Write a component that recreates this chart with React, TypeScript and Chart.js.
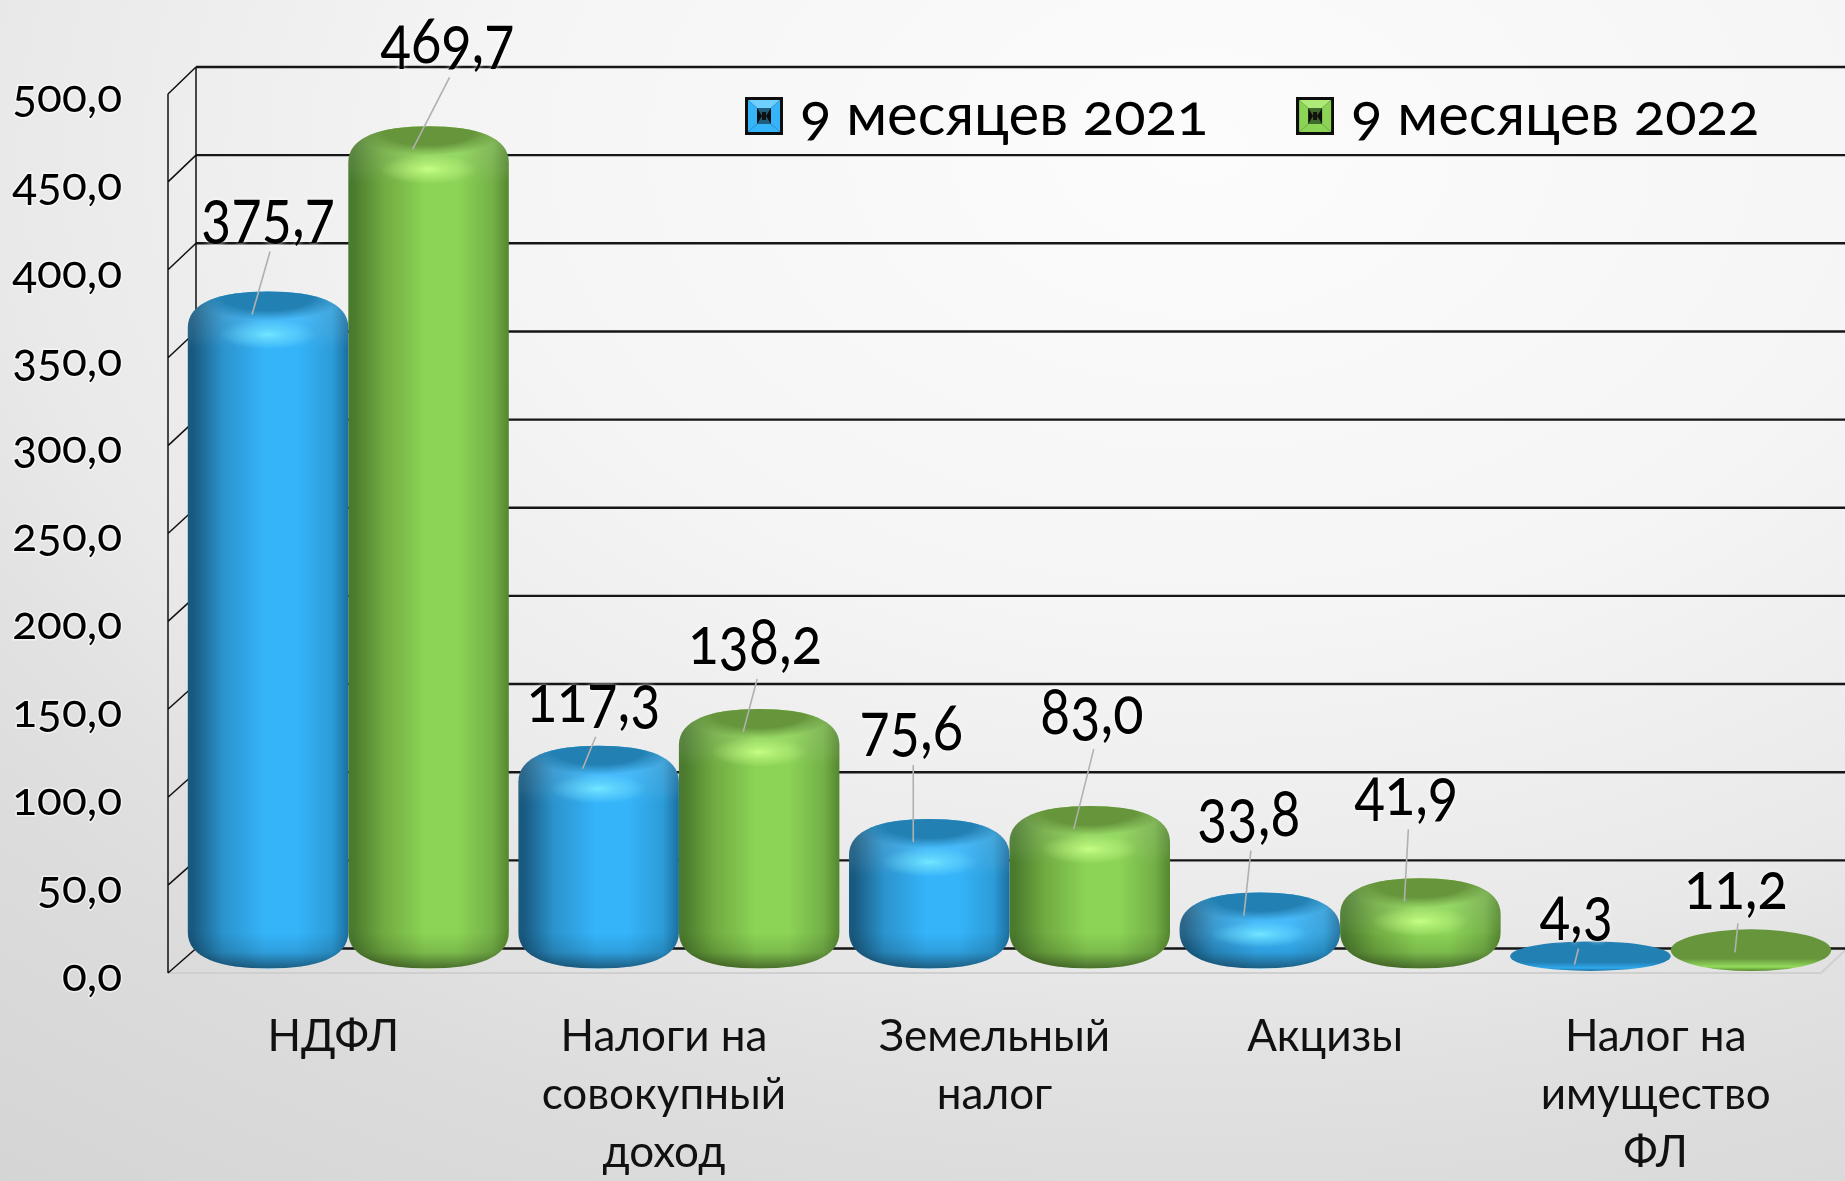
import React, { useEffect, useRef } from "react";
import { Chart, registerables } from "chart.js";
Chart.register(...registerables);

const categories = [["НДФЛ"], ["Налоги на", "совокупный", "доход"], ["Земельный", "налог"], ["Акцизы"], ["Налог на", "имущество", "ФЛ"]];
const seriesNames = ["9 месяцев 2021", "9 месяцев 2022"];
const values2021 = [375.7, 117.3, 75.6, 33.8, 4.3];
const values2022 = [469.7, 138.2, 83.0, 41.9, 11.2];
const yTicks = [0, 50, 100, 150, 200, 250, 300, 350, 400, 450, 500];
// label placement relative to the top of each bar
const labelDx = [[0, -5, -18, -11, -14], [19, -4, 2, -14, -15]];
const labelDy = [[-72, -41, -86, -74, -25], [-81, -62, -89, -81, -38]];

const PAL = [
  { edgeL: "#18597f", a: "#2b93cd", b: "#35b4fa", c: "#2c9cd8", edgeR: "#1b6e9f", top: "#2380b3", hi: "#74e6ff", rim: "#2fa9ec" },
  { edgeL: "#4a7a2d", a: "#70ab41", b: "#8cd456", c: "#74b047", edgeR: "#55872f", top: "#66953c", hi: "#c6ff84", rim: "#93dc5a" },
];
const DEPTH_X = 15;
const FONT = "Lato";

function softEllipse(ctx: CanvasRenderingContext2D, x: number, y: number, rx: number, ry: number, color: string, core: number) {
  ctx.save();
  ctx.translate(x, y);
  ctx.scale(rx, ry);
  const g = ctx.createRadialGradient(0, 0, 0, 0, 0, 1);
  g.addColorStop(0, color);
  g.addColorStop(core, color + (core > 0.4 ? "ff" : "99"));
  g.addColorStop(1, color + "00");
  ctx.fillStyle = g;
  ctx.beginPath();
  ctx.arc(0, 0, 1, 0, Math.PI * 2);
  ctx.fill();
  ctx.restore();
}

function topOf(el: any, v: number) {
  return el.y - (v < 20 ? 24 : 21);
}

function drawBar(ctx: CanvasRenderingContext2D, el: any, ds: number, v: number, y0: number) {
  const p = PAL[ds];
  const cx = el.x + DEPTH_X;
  const w = el.width;
  const L = cx - w / 2;
  const R = cx + w / 2;
  const flat = v < 20;
  const T = topOf(el, v);
  const B = y0 - (flat ? 2 : 4.6);
  const h = B - T;
  ctx.save();
  if (flat) {
    const g = ctx.createLinearGradient(0, T, 0, B);
    g.addColorStop(0, p.top);
    g.addColorStop(0.7, p.top);
    g.addColorStop(0.9, p.rim);
    g.addColorStop(1, p.edgeR);
    ctx.fillStyle = g;
    ctx.beginPath();
    ctx.ellipse(cx, (T + B) / 2, w / 2, h / 2, 0, 0, Math.PI * 2);
    ctx.fill();
    ctx.restore();
    return;
  }
  const r = Math.min(36, h / 2);
  ctx.beginPath();
  ctx.moveTo(L, T + r);
  ctx.bezierCurveTo(L, T + r * 0.3, L + w * 0.2, T, cx, T);
  ctx.bezierCurveTo(R - w * 0.2, T, R, T + r * 0.3, R, T + r);
  ctx.lineTo(R, B - r);
  ctx.bezierCurveTo(R, B - r * 0.3, R - w * 0.2, B, cx, B);
  ctx.bezierCurveTo(L + w * 0.2, B, L, B - r * 0.3, L, B - r);
  ctx.closePath();
  const g = ctx.createLinearGradient(L, 0, R, 0);
  g.addColorStop(0, p.edgeL);
  g.addColorStop(0.03, p.edgeL);
  g.addColorStop(0.22, p.a);
  g.addColorStop(0.48, p.b);
  g.addColorStop(0.68, p.b);
  g.addColorStop(0.9, p.c);
  g.addColorStop(1, p.edgeR);
  ctx.fillStyle = g;
  ctx.fill();
  ctx.clip();
  const bot = ctx.createLinearGradient(0, B - r, 0, B);
  bot.addColorStop(0, "rgba(0,0,0,0)");
  bot.addColorStop(0.55, "rgba(0,0,0,0.12)");
  bot.addColorStop(1, "rgba(0,0,0,0.48)");
  ctx.fillStyle = bot;
  ctx.fillRect(L, B - r, w, r);
  const band = ctx.createLinearGradient(0, T, 0, T + r * 1.6);
  band.addColorStop(0, "rgba(255,255,255,0.14)");
  band.addColorStop(0.75, "rgba(255,255,255,0.06)");
  band.addColorStop(1, "rgba(255,255,255,0)");
  ctx.fillStyle = band;
  ctx.fillRect(L, T, w, r * 1.6);
  softEllipse(ctx, cx, T + 4, w * 0.48, Math.min(25, h * 0.32), p.top, 0.6);
  softEllipse(ctx, cx, T + Math.min(43, h * 0.55), w * 0.3, Math.min(15, h * 0.17), p.hi, 0.3);
  ctx.restore();
}

function marker(main: string, dark: string, light: string) {
  const c = document.createElement("canvas");
  c.width = 38;
  c.height = 38;
  const x = c.getContext("2d")!;
  x.fillStyle = "#0d0d0d";
  x.fillRect(0, 0, 38, 38);
  const tri = (pts: number[][], col: string) => {
    x.fillStyle = col;
    x.beginPath();
    pts.forEach((q, i) => (i ? x.lineTo(q[0], q[1]) : x.moveTo(q[0], q[1])));
    x.closePath();
    x.fill();
  };
  tri([[3, 3], [35, 3], [26, 11], [12, 11]], light);
  tri([[3, 3], [12, 11], [12, 27], [3, 35]], main);
  tri([[35, 3], [26, 11], [26, 27], [35, 35]], main);
  tri([[3, 35], [12, 27], [26, 27], [35, 35]], main);
  tri([[12, 11], [26, 11], [21, 19], [26, 27], [12, 27], [17, 19]], dark);
  x.fillStyle = "#111";
  x.fillRect(17, 15, 4, 8);
  return c;
}

const scenePlugin = {
  id: "scene",
  beforeLayout(chart: any) {
    const lg = chart.legend;
    if (lg && !lg.__wrapped) {
      const fit = lg.fit.bind(lg);
      lg.fit = () => {
        fit();
        lg.height = 0;
      };
      lg.__wrapped = true;
    }
  },
  afterLayout(chart: any) {
    const lg = chart.legend;
    lg.left = 657;
    lg.right = 2400;
    lg.top = -13;
    lg.bottom = 220;
    lg.width = 1743;
    lg.height = 233;
  },
  beforeDraw(chart: any) {
    const { ctx, width, height } = chart;
    const y = chart.scales.y;
    const { left, right, bottom } = chart.chartArea;
    ctx.save();
    ctx.save();
    ctx.scale(1, 1 / 1.5);
    const g = ctx.createRadialGradient(1200, 225, 0, 1200, 225, 2000);
    g.addColorStop(0, "#fcfcfc");
    g.addColorStop(0.35, "#f5f5f5");
    g.addColorStop(0.6, "#e9e9e9");
    g.addColorStop(0.68, "#e2e2e2");
    g.addColorStop(0.78, "#dcdcdc");
    g.addColorStop(1, "#d4d4d4");
    ctx.fillStyle = g;
    ctx.fillRect(0, 0, width, height * 1.5);
    ctx.restore();
    const backY = (v: number) => y.getPixelForValue(v) - 24.5 - v * 0.005;
    const backX = left + 28;
    // floor
    ctx.strokeStyle = "#cfcfcf";
    ctx.lineWidth = 2;
    ctx.beginPath();
    ctx.moveTo(left, bottom);
    ctx.lineTo(right, bottom);
    ctx.lineTo(right + 26, backY(0));
    ctx.stroke();
    // side wall
    ctx.strokeStyle = "#111";
    ctx.lineWidth = 1.5;
    ctx.beginPath();
    ctx.moveTo(left, y.getPixelForValue(500));
    ctx.lineTo(left, bottom);
    ctx.moveTo(backX, backY(500));
    ctx.lineTo(backX, backY(0));
    yTicks.forEach((v) => {
      ctx.moveTo(left, y.getPixelForValue(v));
      ctx.lineTo(backX, backY(v));
    });
    ctx.stroke();
    // back wall
    ctx.lineWidth = 2.4;
    ctx.strokeStyle = "#161616";
    ctx.beginPath();
    yTicks.forEach((v) => {
      ctx.moveTo(backX, backY(v));
      ctx.lineTo(width, backY(v));
    });
    ctx.stroke();
    ctx.restore();
  },
  beforeDatasetDraw(chart: any, args: any) {
    const y0 = chart.scales.y.getPixelForValue(0);
    const ds = args.index;
    const meta = chart.getDatasetMeta(ds);
    const vals = chart.data.datasets[ds].data;
    meta.data.forEach((el: any, i: number) => drawBar(chart.ctx, el, ds, vals[i], y0));
    return false;
  },
  afterDatasetsDraw(chart: any) {
    const ctx = chart.ctx;
    ctx.save();
    ctx.font = `66px ${FONT}`;
    ctx.textAlign = "center";
    ctx.textBaseline = "middle";
    chart.data.datasets.forEach((d: any, ds: number) => {
      const meta = chart.getDatasetMeta(ds);
      meta.data.forEach((el: any, i: number) => {
        const v = d.data[i];
        const cx = el.x + DEPTH_X;
        const T = topOf(el, v);
        const lx = cx + labelDx[ds][i];
        const ly = T + labelDy[ds][i];
        ctx.strokeStyle = "#b0b0b0";
        ctx.lineWidth = 1.6;
        ctx.beginPath();
        ctx.moveTo(lx + 2, ly + 32);
        ctx.lineTo(cx - 16, T + 23);
        ctx.stroke();
        ctx.save();
        ctx.translate(lx, ly - 4);
        ctx.scale(0.85, 1);
        ctx.shadowColor = "rgba(255,255,255,0.9)";
        ctx.shadowBlur = 5;
        ctx.fillStyle = "#000";
        ctx.fillText(v.toFixed(1).replace(".", ","), 0, 0);
        ctx.restore();
      });
    });
    ctx.restore();
  },
};

export default function App() {
  const ref = useRef<HTMLCanvasElement>(null);
  useEffect(() => {
    const canvas = ref.current!;
    // old-style figures: the canvas text picks up the element's feature settings
    const c0 = canvas.getContext("2d")!;
    c0.font = `40px ${FONT}`;
    c0.measureText("0");
    canvas.style.fontFeatureSettings = '"onum"';
    canvas.style.fontFamily = FONT;
    c0.font = `41px ${FONT}`;
    c0.measureText("0");
    const markers = [marker("#35b4fa", "#1f5d7d", "#6fd0ff"), marker("#8cd456", "#3f6a2c", "#aeea78")];
    const chart = new Chart(canvas, {
      type: "bar",
      plugins: [scenePlugin],
      data: {
        labels: categories as any,
        datasets: [
          { label: seriesNames[0], data: values2021, backgroundColor: "#35b4fa", barPercentage: 1, categoryPercentage: 0.971 },
          { label: seriesNames[1], data: values2022, backgroundColor: "#8cd456", barPercentage: 1, categoryPercentage: 0.971 },
        ],
      },
      options: {
        responsive: false,
        animation: false,
        layout: { padding: { top: 94, right: 24, left: 0, bottom: 0 } },
        plugins: {
          tooltip: { enabled: false },
          legend: {
            position: "top",
            align: "start",
            labels: {
              font: { family: FONT, size: 58 },
              color: "#000",
              usePointStyle: true,
              boxWidth: 14,
              boxHeight: 14,
              padding: 100,
              generateLabels: (c: any) =>
                c.data.datasets.map((d: any, i: number) => ({
                  text: d.label,
                  fontColor: "#000",
                  pointStyle: markers[i],
                  datasetIndex: i,
                  hidden: false,
                  lineWidth: 0,
                })),
            },
          },
        },
        scales: {
          x: {
            grid: { display: false },
            border: { display: false },
            afterFit: (s: any) => { s.height = 208; },
            ticks: {
              font: { family: FONT, size: 44, lineHeight: 1.32 },
              color: "#111",
              autoSkip: false,
              maxRotation: 0,
              minRotation: 0,
              padding: 27,
            },
          },
          y: {
            min: 0,
            max: 500,
            grid: { display: false },
            border: { display: false },
            afterFit: (s: any) => { s.width = 168; },
            afterBuildTicks: (s: any) => { s.ticks = yTicks.map((value) => ({ value })); },
            ticks: {
              font: { family: FONT, size: 46 },
              color: "#000",
              padding: 38,
              labelOffset: 3,
              textStrokeColor: "rgba(255,255,255,0.55)",
              textStrokeWidth: 3,
              callback: (v: any) => Number(v).toFixed(1).replace(".", ","),
            },
          },
        },
      },
    } as any);
    return () => chart.destroy();
  }, []);
  return <canvas ref={ref} width={1845} height={1181} style={{ position: "absolute", left: 0, top: 0, display: "block" }} />;
}
